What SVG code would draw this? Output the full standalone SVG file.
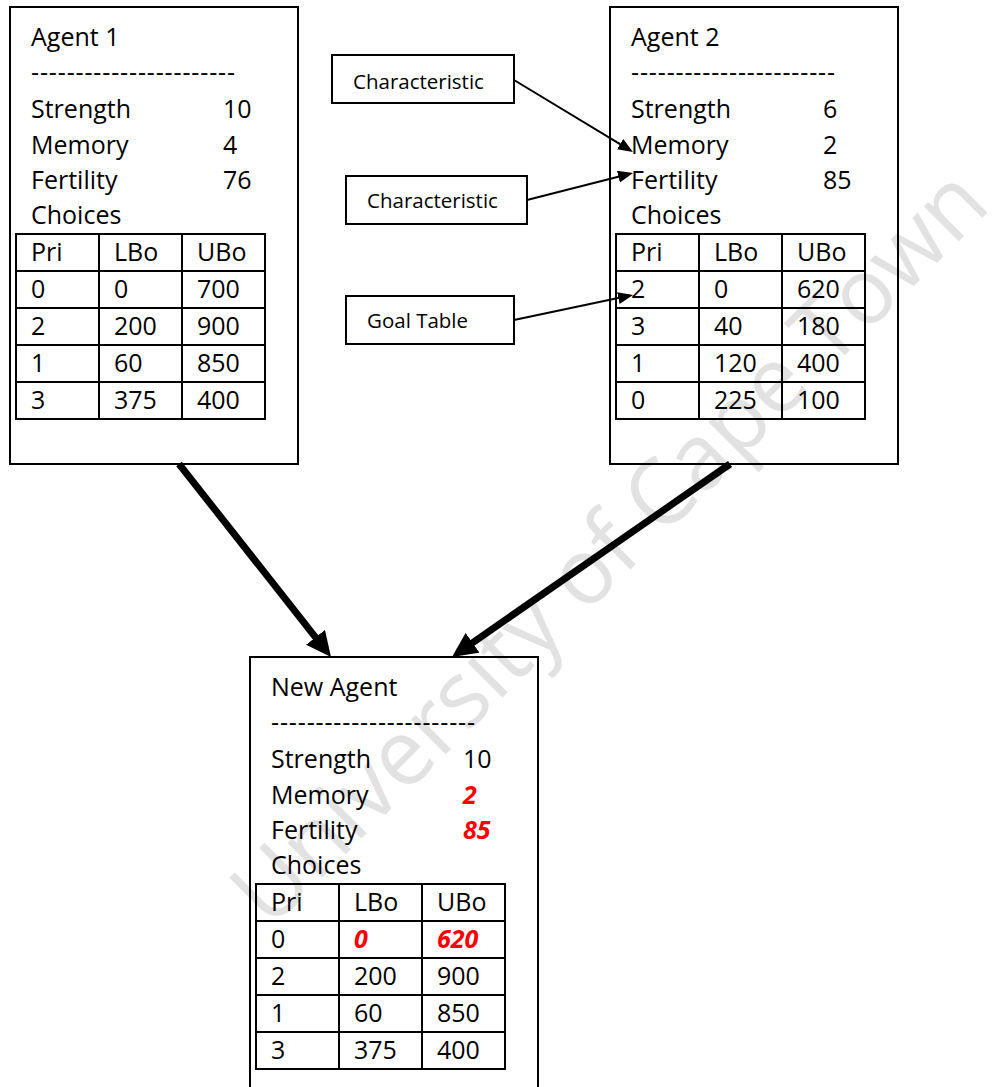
<svg xmlns="http://www.w3.org/2000/svg" xmlns:xlink="http://www.w3.org/1999/xlink" width="993" height="1087" viewBox="0 0 993 1087">
  <style>
    text { font-family: "Open Sans", "Liberation Sans", sans-serif; fill: #000; }
    .t { font-size: 25px; }
    .lbl { font-size: 20.5px; }
    .hl { fill: #ff0000; font-weight: bold; font-style: italic; }
    .frame { fill: none; stroke: #000; stroke-width: 2; }
    .tag { fill: #fff; stroke: #000; stroke-width: 2; }
    .thin { fill: none; stroke: #000; stroke-width: 2; }
    .thick { fill: none; stroke: #000; stroke-width: 7; }
    .wm { font-size: 92px; fill: #e2e2e2; }
  </style>
  <defs>
    <!-- agent card: outer box plus 3x5 choices grid -->
    <g id="card-frame">
      <rect class="frame" x="10" y="7" width="288" height="457"/>
      <rect class="frame" x="16" y="234" width="249" height="185"/>
      <path class="frame" d="M16 271H265M16 308H265M16 345H265M16 382H265M99 234V419M182 234V419"/>
    </g>
    <marker id="head-s" markerUnits="userSpaceOnUse" markerWidth="15" markerHeight="12" refX="12" refY="6" orient="auto">
      <path d="M0 0L15 6L0 12z" fill="#000"/>
    </marker>
    <marker id="head-l" markerUnits="userSpaceOnUse" markerWidth="25" markerHeight="24" refX="15" refY="12" orient="auto">
      <path d="M0 0L25 12L0 24z" fill="#000"/>
    </marker>
  </defs>

  <rect x="0" y="0" width="993" height="1087" fill="#fff"/>

  <!-- diagonal watermark -->
  <g id="watermark">
    <text class="wm" x="270" y="930" transform="rotate(-45 270 930)" textLength="1022" lengthAdjust="spacingAndGlyphs">University of Cape Town</text>
  </g>

  <g id="agent1">
    <use href="#card-frame"/>
    <text class="t" x="31" y="46">Agent 1</text>
    <text class="t" x="31" y="81" textLength="204" lengthAdjust="spacing">-----------------------</text>
    <text class="t" x="31" y="118">Strength</text><text class="t" x="223" y="118">10</text>
    <text class="t" x="31" y="154">Memory</text><text class="t" x="223" y="154">4</text>
    <text class="t" x="31" y="189">Fertility</text><text class="t" x="223" y="189">76</text>
    <text class="t" x="31" y="224">Choices</text>
    <text class="t" x="31" y="261">Pri</text><text class="t" x="114" y="261">LBo</text><text class="t" x="197" y="261">UBo</text>
    <text class="t" x="31" y="298">0</text><text class="t" x="114" y="298">0</text><text class="t" x="197" y="298">700</text>
    <text class="t" x="31" y="335">2</text><text class="t" x="114" y="335">200</text><text class="t" x="197" y="335">900</text>
    <text class="t" x="31" y="372">1</text><text class="t" x="114" y="372">60</text><text class="t" x="197" y="372">850</text>
    <text class="t" x="31" y="409">3</text><text class="t" x="114" y="409">375</text><text class="t" x="197" y="409">400</text>
  </g>

  <g id="agent2">
    <use href="#card-frame" x="600"/>
    <text class="t" x="631" y="46">Agent 2</text>
    <text class="t" x="631" y="81" textLength="204" lengthAdjust="spacing">-----------------------</text>
    <text class="t" x="631" y="118">Strength</text><text class="t" x="823" y="118">6</text>
    <text class="t" x="631" y="154">Memory</text><text class="t" x="823" y="154">2</text>
    <text class="t" x="631" y="189">Fertility</text><text class="t" x="823" y="189">85</text>
    <text class="t" x="631" y="224">Choices</text>
    <text class="t" x="631" y="261">Pri</text><text class="t" x="714" y="261">LBo</text><text class="t" x="797" y="261">UBo</text>
    <text class="t" x="631" y="298">2</text><text class="t" x="714" y="298">0</text><text class="t" x="797" y="298">620</text>
    <text class="t" x="631" y="335">3</text><text class="t" x="714" y="335">40</text><text class="t" x="797" y="335">180</text>
    <text class="t" x="631" y="372">1</text><text class="t" x="714" y="372">120</text><text class="t" x="797" y="372">400</text>
    <text class="t" x="631" y="409">0</text><text class="t" x="714" y="409">225</text><text class="t" x="797" y="409">100</text>
  </g>

  <g id="new-agent">
    <use href="#card-frame" x="240" y="650"/>
    <text class="t" x="271" y="696">New Agent</text>
    <text class="t" x="271" y="731" textLength="204" lengthAdjust="spacing">-----------------------</text>
    <text class="t" x="271" y="768">Strength</text><text class="t" x="463" y="768">10</text>
    <text class="t" x="271" y="804">Memory</text><text class="t hl" x="463" y="804">2</text>
    <text class="t" x="271" y="839">Fertility</text><text class="t hl" x="463" y="839">85</text>
    <text class="t" x="271" y="874">Choices</text>
    <text class="t" x="271" y="911">Pri</text><text class="t" x="354" y="911">LBo</text><text class="t" x="437" y="911">UBo</text>
    <text class="t" x="271" y="948">0</text><text class="t hl" x="354" y="948">0</text><text class="t hl" x="437" y="948">620</text>
    <text class="t" x="271" y="985">2</text><text class="t" x="354" y="985">200</text><text class="t" x="437" y="985">900</text>
    <text class="t" x="271" y="1022">1</text><text class="t" x="354" y="1022">60</text><text class="t" x="437" y="1022">850</text>
    <text class="t" x="271" y="1059">3</text><text class="t" x="354" y="1059">375</text><text class="t" x="437" y="1059">400</text>
  </g>

  <g id="tag-characteristic-1">
    <rect class="tag" x="332" y="55" width="182" height="48"/>
    <text class="lbl" x="353" y="89">Characteristic</text>
  </g>
  <g id="tag-characteristic-2">
    <rect class="tag" x="346" y="176" width="181" height="48"/>
    <text class="lbl" x="367" y="208">Characteristic</text>
  </g>
  <g id="tag-goal-table">
    <rect class="tag" x="346" y="296" width="168" height="48"/>
    <text class="lbl" x="367" y="328">Goal Table</text>
  </g>

  <g id="connectors">
    <path class="thin" d="M514 80L630.4 150.4" marker-end="url(#head-s)"/>
    <path class="thin" d="M527 200L630.1 173.7" marker-end="url(#head-s)"/>
    <path class="thin" d="M514 320L630.1 295.6" marker-end="url(#head-s)"/>
    <path class="thick" d="M179 464L324.8 649.1" marker-end="url(#head-l)"/>
    <path class="thick" d="M730 464L460.2 651.3" marker-end="url(#head-l)"/>
  </g>
</svg>
